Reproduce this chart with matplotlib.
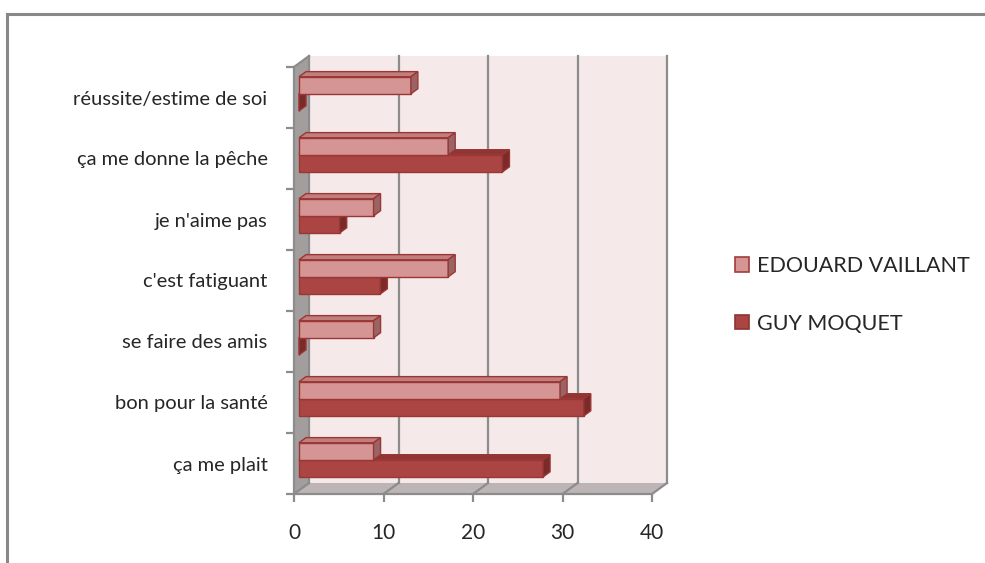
import matplotlib
matplotlib.use("Agg")
import matplotlib.pyplot as plt
from matplotlib.patches import Polygon, Patch
from matplotlib.lines import Line2D

# ---------------- data ----------------
categories = ["ça me plait", "bon pour la santé", "se faire des amis",
              "c'est fatiguant", "je n'aime pas", "ça me donne la pêche",
              "réussite/estime de soi"]
series_names = ["EDOUARD VAILLANT", "GUY MOQUET"]
edouard_vaillant = [8.33, 29.17, 8.33, 16.67, 8.33, 16.67, 12.5]
guy_moquet = [27.27, 31.82, 0.0, 9.09, 4.55, 22.73, 0.0]
x_ticks = [0, 10, 20, 30, 40]

# ---------------- layout ----------------
W, H = 985, 563
DPI = 100
AX_L, AX_R, AX_T, AX_B = 294, 652, 67, 494   # front plane in pixels
fig = plt.figure(figsize=(W / DPI, H / DPI), dpi=DPI)
fig.patch.set_facecolor("white")
plt.rcParams["font.family"] = ["Lato", "DejaVu Sans"]

ax = fig.add_axes([AX_L / W, 1 - AX_B / H, (AX_R - AX_L) / W, (AX_B - AX_T) / H])
ax.set_xlim(0, 40)
ax.set_ylim(0, len(categories))
ax.patch.set_alpha(0)

ux = 40 / (AX_R - AX_L)
uy = len(categories) / (AX_B - AX_T)
DX, DY = 15 * ux, 11 * uy          # depth offset of the 3-D box

grid_c = "#8c8c8c"
# walls
ax.add_patch(Polygon([(DX, DY), (40 + DX, DY), (40 + DX, 7 + DY), (DX, 7 + DY)],
                     closed=True, fc="#f5e9e9", ec="none", zorder=0.5, clip_on=False))
ax.add_patch(Polygon([(0, 0), (0, 7), (DX, 7 + DY), (DX, DY)],
                     closed=True, fc="#a29e9e", ec="none", zorder=0.6, clip_on=False))
ax.add_patch(Polygon([(0, 0), (40, 0), (40 + DX, DY), (DX, DY)],
                     closed=True, fc="#bdb5b5", ec="none", zorder=0.6, clip_on=False))
for xv in x_ticks:
    ax.add_line(Line2D([xv + DX, xv + DX], [DY, 7 + DY], color=grid_c, lw=1.6,
                       zorder=0.8, clip_on=False))
    ax.add_line(Line2D([xv, xv + DX], [0, DY], color=grid_c, lw=1.6,
                       zorder=0.8, clip_on=False))
ax.add_line(Line2D([0, DX], [7, 7 + DY], color=grid_c, lw=1.6, zorder=0.8, clip_on=False))

# ---------------- bars ----------------
d1, d2 = 5 / 15, 12 / 15
fx, fy = d1 * DX, d1 * DY
ddx, ddy = (d2 - d1) * DX, (d2 - d1) * DY
bh = 0.28
edge = "#9a3634"

styles = {
    "GUY MOQUET": dict(front="#aa4543", top="#8f3533", side="#7a2b29", off=0.22),
    "EDOUARD VAILLANT": dict(front="#d59594", top="#c07e7d", side="#9a6464", off=0.22 + bh),
}

z = 2
for name, vals in [("GUY MOQUET", guy_moquet), ("EDOUARD VAILLANT", edouard_vaillant)]:
    st = styles[name]
    ys = [i + st["off"] + fy + bh / 2 for i in range(len(categories))]
    ax.barh(ys, vals, height=bh, left=fx, color=st["front"], edgecolor=edge,
            linewidth=1, zorder=z, clip_on=False)
    for yc, v in zip(ys, vals):
        y0, y1 = yc - bh / 2, yc + bh / 2
        x0, x1 = fx, fx + v
        ax.add_patch(Polygon([(x0, y1), (x1, y1), (x1 + ddx, y1 + ddy), (x0 + ddx, y1 + ddy)],
                             closed=True, fc=st["top"], ec=edge, lw=1, zorder=z + 0.5,
                             clip_on=False))
        ax.add_patch(Polygon([(x1, y0), (x1, y1), (x1 + ddx, y1 + ddy), (x1 + ddx, y0 + ddy)],
                             closed=True, fc=st["side"], ec=edge, lw=1, zorder=z + 0.5,
                             clip_on=False))
    z += 2

# ---------------- axes styling ----------------
for s in ["top", "right"]:
    ax.spines[s].set_visible(False)
for s in ["left", "bottom"]:
    ax.spines[s].set_color(grid_c)
    ax.spines[s].set_linewidth(1.6)
    ax.spines[s].set_zorder(1)

text_c = "#262626"
ax.set_xticks(x_ticks)
ax.set_xticklabels([str(t) for t in x_ticks])
ax.tick_params(axis="x", length=6, width=1.6, color=grid_c, pad=15,
               labelsize=15, labelcolor=text_c)
ax.set_yticks([i + 0.5 for i in range(len(categories))])
ax.set_yticklabels(categories)
ax.set_yticks(list(range(len(categories) + 1)), minor=True)
ax.tick_params(axis="y", which="major", length=0, pad=19, labelsize=14.5, labelcolor=text_c)
ax.tick_params(axis="y", which="minor", length=6, width=1.6, color=grid_c)

# ---------------- legend ----------------
handles = [Patch(facecolor="#d59594", edgecolor="#a33d3b", linewidth=1.2),
           Patch(facecolor="#aa4543", edgecolor="#8f3331", linewidth=1.2)]
fig.legend(handles, series_names, loc="center left",
           bbox_to_anchor=(716 / W, 1 - 295 / H), frameon=False, fontsize=15.5,
           handlelength=0.65, handleheight=0.65, handletextpad=0.35,
           labelspacing=1.75, labelcolor=text_c)

# ---------------- chart border ----------------
fig.add_artist(Line2D([7 / W, 1], [1 - 14 / H, 1 - 14 / H], transform=fig.transFigure,
                      color="#888888", lw=2.2))
fig.add_artist(Line2D([7 / W, 7 / W], [0, 1 - 14 / H], transform=fig.transFigure,
                      color="#888888", lw=2.2))

fig.savefig("out.png", dpi=DPI)
